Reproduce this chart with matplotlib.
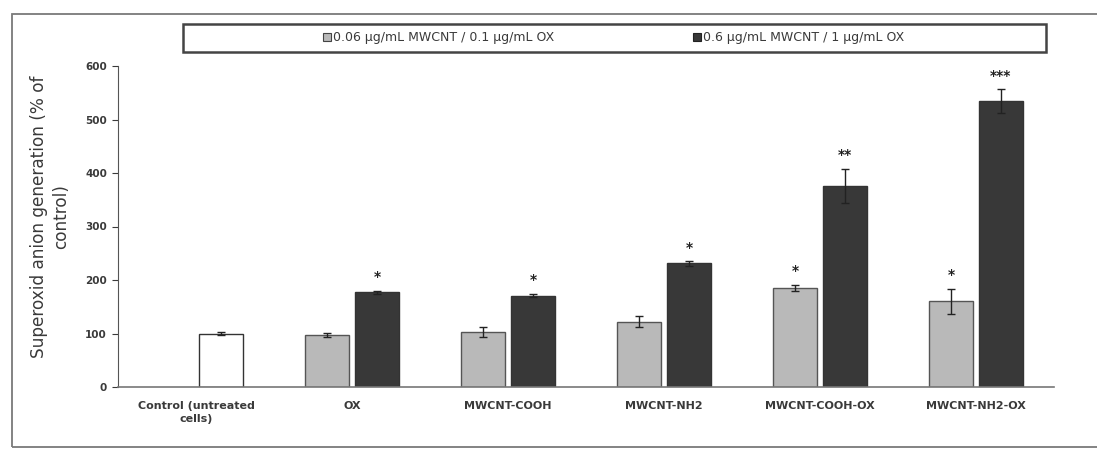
import numpy as np
import matplotlib.pyplot as plt
from matplotlib.patches import Rectangle

plt.rcParams['font.family'] = ['DejaVu Sans']

groups = ["Control (untreated\ncells)", "OX", "MWCNT-COOH", "MWCNT-NH2",
          "MWCNT-COOH-OX", "MWCNT-NH2-OX"]

# low dose series (no control value)
low = [np.nan, 97, 103, 122, 185, 160]
low_err = [0, 4, 10, 10, 6, 24]
low_sig = ["", "", "", "", "*", "*"]

# high dose series; first entry is the untreated control
high = [100, 177, 171, 231, 376, 535]
high_err = [3, 3, 3, 4, 32, 22]
high_sig = ["", "*", "*", "*", "**", "***"]

legend_labels = ["0.06 \u00b5g/mL MWCNT / 0.1 \u00b5g/mL OX",
                 "0.6 \u00b5g/mL MWCNT / 1 \u00b5g/mL OX"]

W, H = 1097, 450
fig = plt.figure(figsize=(W / 100, H / 100), dpi=100)
fig.patch.set_facecolor("white")
txt_c = "#3a3a3a"

# outer frame, runs off the right edge
fig.patches.append(Rectangle((12 / W, 1 - 447 / H), (1110 - 12) / W, (447 - 14) / H,
                             transform=fig.transFigure, fill=False,
                             edgecolor="#7a7a7a", lw=1.3))
# legend box
fig.patches.append(Rectangle((183 / W, 1 - 52 / H), (1046 - 183) / W, 28 / H,
                             transform=fig.transFigure, fill=False,
                             edgecolor="#444444", lw=1.8))

ax = fig.add_axes([118 / W, 1 - 387 / H, (1054 - 118) / W, (387 - 66) / H])

x = np.arange(len(groups))
bw = 0.28
off = 0.16
light_c = "#b9b9b9"
dark_c = "#383838"

ax.bar(x - off, low, bw, color=light_c, edgecolor="#555555", lw=1.0, zorder=2)
ax.errorbar(x - off, low, yerr=low_err, fmt="none", ecolor="#222222",
            elinewidth=1.0, capsize=3, zorder=3)

hc = ["white"] + [dark_c] * (len(groups) - 1)
ax.bar(x + off, high, bw, color=hc, edgecolor="#333333", lw=1.0, zorder=2)
ax.errorbar(x + off, high, yerr=high_err, fmt="none", ecolor="#222222",
            elinewidth=1.0, capsize=3, zorder=3)

for i in range(len(groups)):
    if low_sig[i]:
        ax.text(x[i] - off, low[i] + low_err[i] + 12, low_sig[i], ha="center",
                va="bottom", fontsize=10, fontweight="bold", color="#222222")
    if high_sig[i]:
        ax.text(x[i] + off, high[i] + high_err[i] + 12, high_sig[i], ha="center",
                va="bottom", fontsize=10, fontweight="bold", color="#222222")

ax.set_xlim(-0.5, len(groups) - 0.5)
ax.set_ylim(0, 600)
ax.set_yticks(range(0, 601, 100))
ax.tick_params(axis="y", direction="out", length=4, width=0.8, labelsize=7.5,
               colors=txt_c, pad=4)
for t in ax.get_yticklabels():
    t.set_fontweight("bold")
ax.set_xticks(x)
ax.set_xticklabels(groups, fontsize=8, fontweight="bold", color=txt_c,
                   linespacing=1.4)
ax.tick_params(axis="x", length=0, pad=10)

for s in ["top", "right"]:
    ax.spines[s].set_visible(False)
ax.spines["left"].set_color("#555555")
ax.spines["bottom"].set_color("#777777")
ax.spines["bottom"].set_linewidth(1.2)

ax.set_ylabel("Superoxid anion generation (% of\ncontrol)", fontsize=12.2,
              color=txt_c, linespacing=1.3)
ax.yaxis.set_label_coords(-0.0513, 0.531)

handles = [Rectangle((0, 0), 1, 1, facecolor=light_c, edgecolor="#444444", lw=0.8),
           Rectangle((0, 0), 1, 1, facecolor=dark_c, edgecolor="#222222", lw=0.8)]
leg = fig.legend(handles, legend_labels, ncol=2, loc="center",
                 bbox_to_anchor=(614 / W, 1 - 38 / H), frameon=False,
                 fontsize=9, handlelength=0.6, handleheight=0.6,
                 handletextpad=0.2, columnspacing=11.1, borderaxespad=0)
for t in leg.get_texts():
    t.set_color(txt_c)

fig.savefig("out.png", dpi=100)
